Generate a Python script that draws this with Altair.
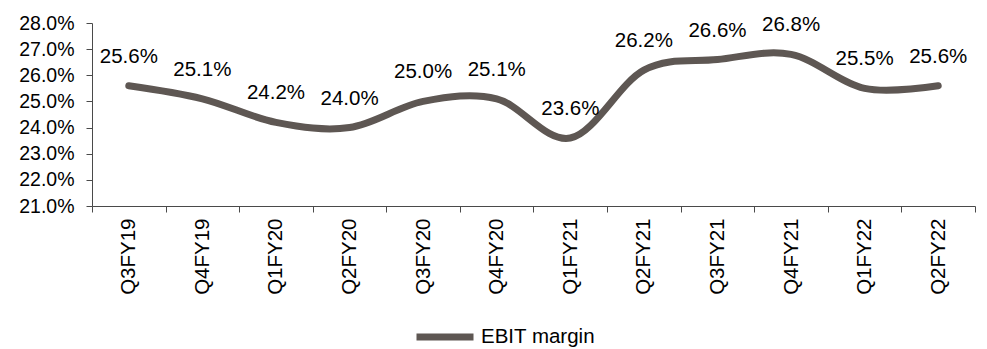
import altair as alt
import pandas as pd

quarters = ["Q3FY19", "Q4FY19", "Q1FY20", "Q2FY20", "Q3FY20", "Q4FY20",
            "Q1FY21", "Q2FY21", "Q3FY21", "Q4FY21", "Q1FY22", "Q2FY22"]
ebit_margin = [0.256, 0.251, 0.242, 0.240, 0.250, 0.251,
               0.236, 0.262, 0.266, 0.268, 0.255, 0.256]
series_name = ["EBIT margin"] * len(quarters)
y_ticks = [0.21, 0.22, 0.23, 0.24, 0.25, 0.26, 0.27, 0.28]

df = pd.DataFrame({"quarter": quarters, "value": ebit_margin, "series": series_name})

FONT = "Liberation Sans"
LINE = "#5e5753"
AXIS = "#4a4a4a"

x_enc = alt.X("quarter:N", sort=quarters,
              scale=alt.Scale(type="band", paddingInner=0, paddingOuter=0),
              axis=alt.Axis(title=None, labelAngle=-90, labelFontSize=20.5,
                            labelFont=FONT, labelColor="#000000", labelPadding=6,
                            tickBand="extent", tickSize=6, tickColor=AXIS,
                            domainColor=AXIS, grid=False, labelBaseline="middle",
                            labelOverlap=False))
y_enc = alt.Y("value:Q",
              scale=alt.Scale(domain=[0.21, 0.28], nice=False, zero=False),
              axis=alt.Axis(title=None, values=y_ticks, format=".1%",
                            tickCount=8, labelFontSize=19.5, labelFont=FONT,
                            labelColor="#000000", labelPadding=12, tickSize=6,
                            tickColor=AXIS, domainColor=AXIS, grid=False,
                            labelOverlap=False, labelFlush=False))

line = alt.Chart(df).mark_line(
    interpolate="cardinal", tension=0, strokeWidth=7, strokeCap="round", strokeJoin="round"
).encode(
    x=x_enc,
    y=y_enc,
    color=alt.Color("series:N", scale=alt.Scale(range=[LINE]),
                    legend=alt.Legend(title=None, orient="none", legendX=321, legendY=282,
                                      symbolType="stroke", symbolSize=3249,
                                      symbolStrokeWidth=7, labelFontSize=20.5,
                                      labelFont=FONT, labelColor="#000000",
                                      labelOffset=4, padding=0)),
)

labels = alt.Chart(df).mark_text(
    dy=-23, baseline="alphabetic", align="center", fontSize=20.5, font=FONT, color="#000000"
).encode(
    x=x_enc,
    y=y_enc,
    text=alt.Text("value:Q", format=".1%"),
)

chart = alt.layer(line, labels).properties(
    width=883, height=183,
    autosize=alt.AutoSizeParams(type="none"),
    padding={"left": 92, "top": 23, "right": 12, "bottom": 143},
    background="white",
).configure_view(stroke=None)

chart.save("out.html", embed_options={"renderer": "svg", "actions": False})
